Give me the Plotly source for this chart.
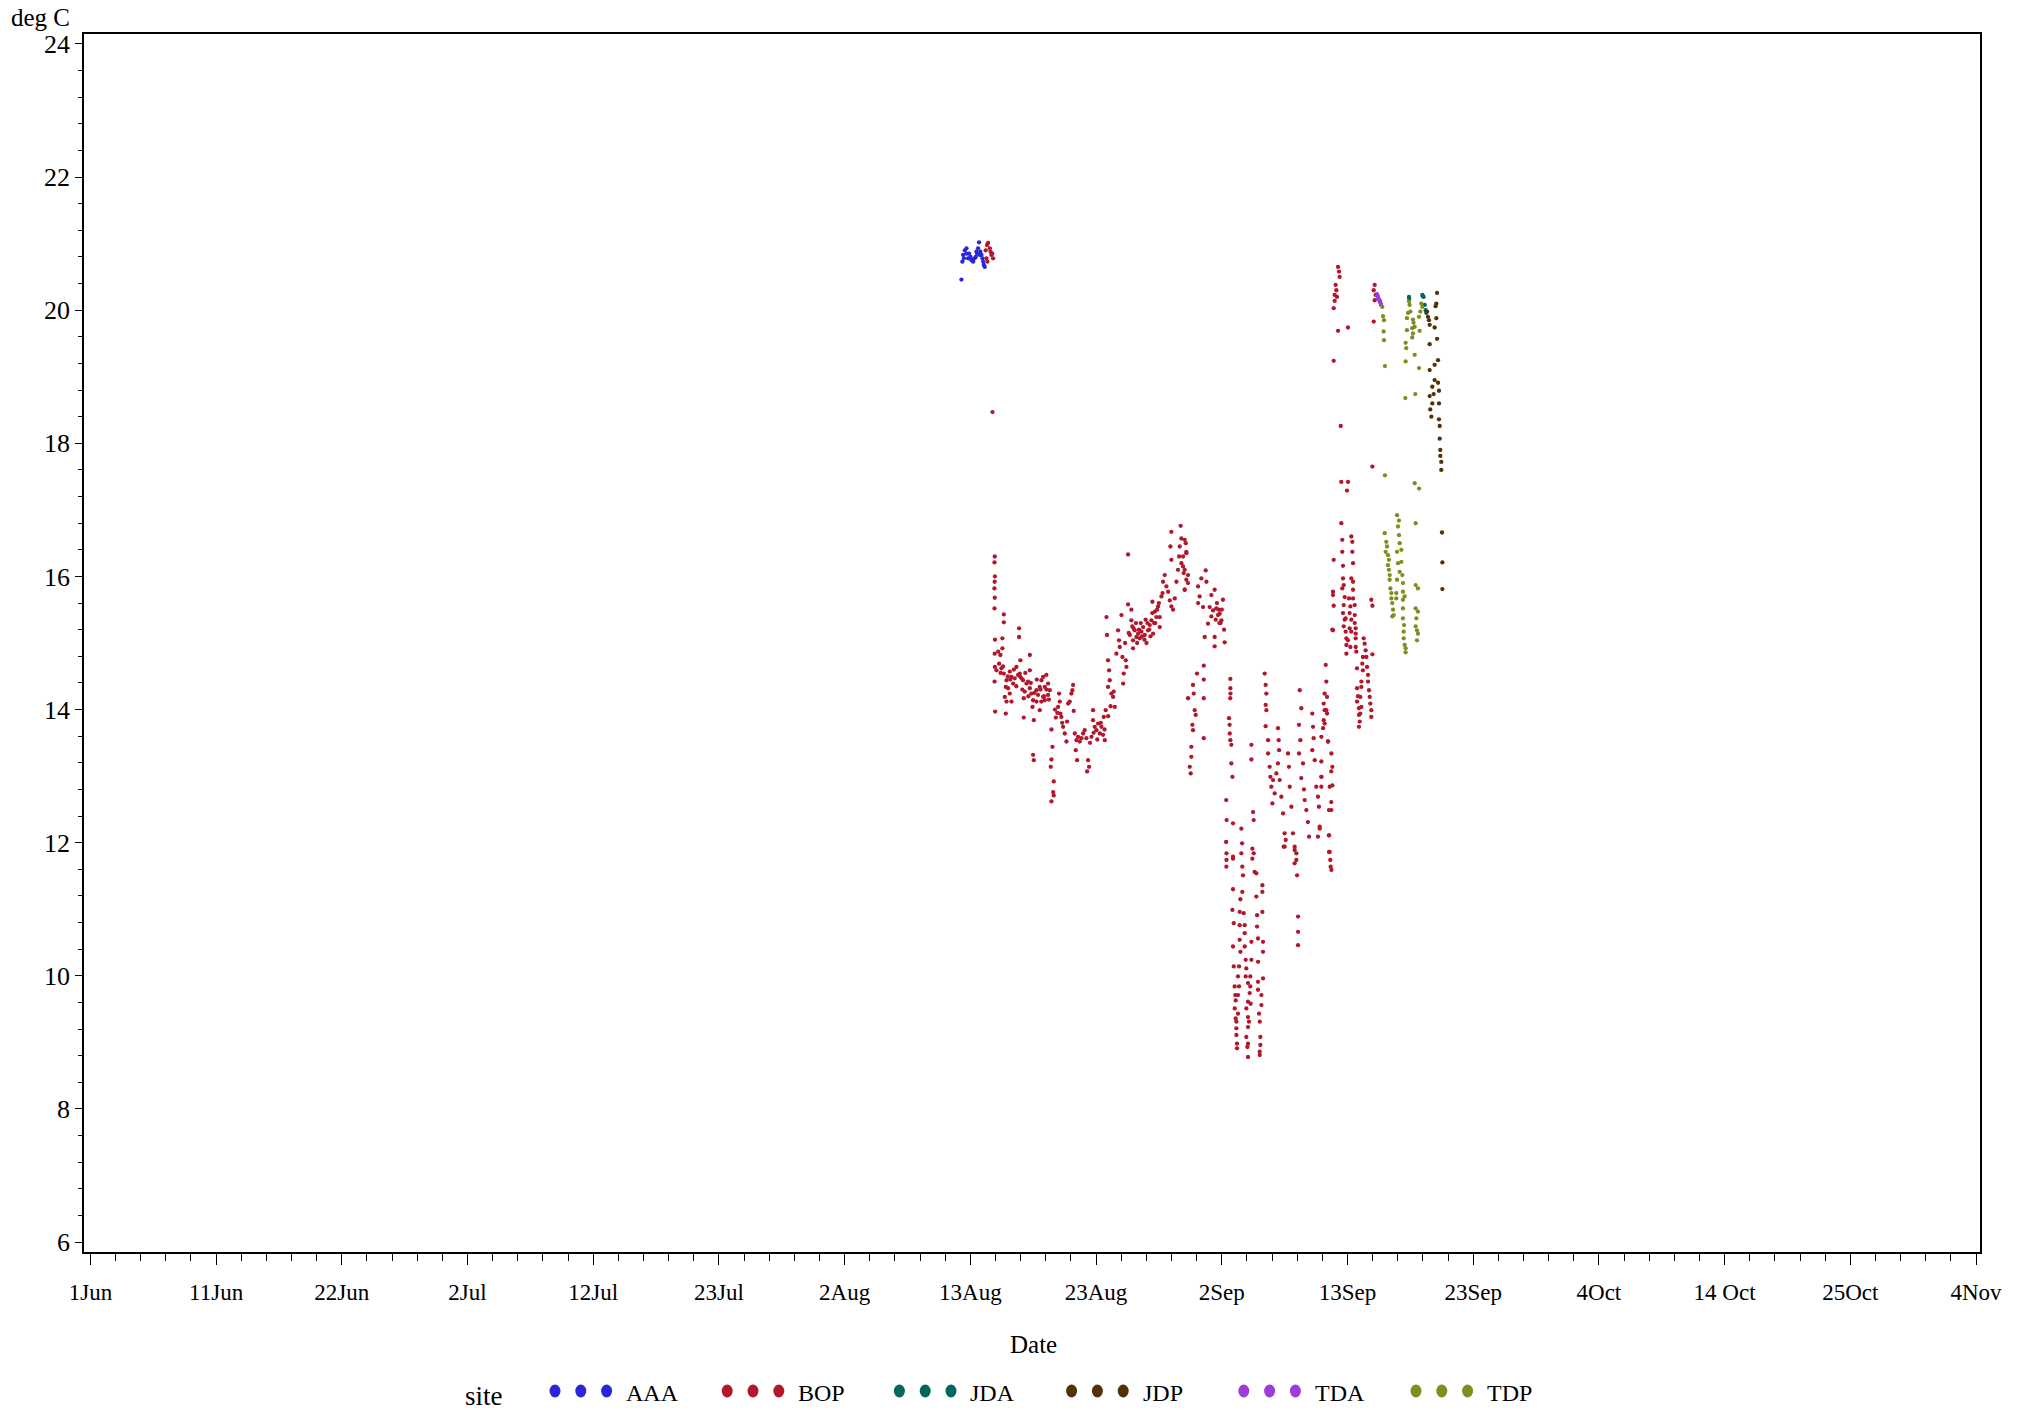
import pandas as pd
import plotly.graph_objects as go

# ---------------- data (days after 1 Jun, temperature deg C) ----------------
sites = ["AAA", "BOP", "JDA", "JDP", "TDA", "TDP"]
site_colors = ["#2A25D9", "#B2182B", "#01665E", "#543005", "#9D3CDB", "#7F8E1F"]

tick_labels = ["1Jun", "11Jun", "22Jun", "2Jul", "12Jul", "23Jul", "2Aug", "13Aug",
               "23Aug", "2Sep", "13Sep", "23Sep", "4Oct", "14 Oct", "25Oct", "4Nov"]

aaa_day = [72.06, 72.14, 72.20, 72.34, 72.48, 72.70, 72.89, 73.03, 73.16, 73.30,
           73.44, 73.52, 73.63, 73.80, 73.91, 73.99, 72.27, 72.48, 72.61, 72.81,
           72.97, 73.25, 73.36, 73.58, 73.72, 73.86]
aaa_temp = [20.46, 20.73, 20.83, 20.90, 20.93, 20.85, 20.75, 20.73, 20.78, 20.88,
            20.93, 21.02, 20.88, 20.78, 20.68, 20.65, 20.78, 20.85, 20.78, 20.80,
            20.76, 20.80, 20.85, 20.83, 20.83, 20.73]

bop_day = (
    [74.07, 74.18, 74.27, 74.41, 74.54, 74.68, 74.13, 74.21, 74.47, 74.61, 74.63]
    + [74.82, 74.80, 74.83, 74.81, 74.79, 74.82, 74.80, 74.84, 74.81, 74.83, 74.80, 74.85]
    + [75.10, 75.29, 75.45, 75.18, 74.96, 75.37, 75.57, 75.79, 75.73, 75.92,
       75.65, 75.79, 75.73, 75.57, 75.57, 75.45, 76.06, 76.20, 76.34, 76.47, 76.20, 76.06]
    + [76.83, 76.83, 76.61, 76.75, 76.89, 77.03, 77.16, 76.94, 77.22, 77.30,
       77.44, 77.58, 77.72, 77.72, 77.72, 77.85, 77.99, 77.94, 78.05, 77.99, 78.05, 77.22]
    + [78.27, 78.40, 78.54, 78.68, 78.82, 78.96, 79.09, 79.23, 79.37, 78.82, 78.68, 78.27, 78.54, 78.96, 79.23]
    + [75.30, 75.50, 75.90, 76.10, 76.40, 76.60, 76.90, 77.10, 77.35, 77.60,
       77.80, 78.10, 78.30, 78.60, 78.90, 79.10, 79.30, 79.80, 80.00, 80.40]
    + [79.51, 79.59, 79.51, 79.45, 79.70, 79.65, 79.70, 79.51]
    + [80.14, 80.20, 80.06, 80.25, 80.33, 79.87, 80.47, 80.61, 80.75, 80.80,
       81.02, 81.16, 81.30, 81.24, 80.89, 81.35, 81.44, 81.58, 81.71, 81.52,
       81.63, 81.85, 81.99, 82.13, 82.26, 82.40, 82.54, 82.62, 82.46]
    + [82.82, 82.95, 82.95, 83.09, 83.23, 83.37, 83.51, 83.64, 83.78, 83.92, 83.84, 84.00]
    + [82.70, 83.00, 83.30, 83.60, 83.90, 84.20, 84.40]
    + [84.06, 84.11, 84.19, 84.28, 84.33, 84.19, 84.47, 84.61, 84.75, 84.66,
       84.88, 85.02, 85.10, 85.16, 85.30, 85.38, 85.49, 85.44, 85.71, 85.66, 85.85, 85.85]
    + [86.12, 86.12, 85.99, 86.26, 86.40, 86.26, 86.54, 86.68, 86.81, 86.95,
       87.09, 87.23, 87.37, 87.50, 87.64, 87.78, 87.92, 87.86, 88.06, 88.19,
       88.33, 88.47, 88.61, 88.47]
    + [86.30, 86.60, 86.90, 87.20, 87.45, 87.70, 88.00, 88.25]
    + [85.60, 85.90, 86.20, 86.50, 86.75, 87.00, 87.30, 87.60, 87.85, 88.10, 88.40, 88.70]
    + [88.74, 88.88, 89.02, 89.16, 89.30, 89.43, 89.57, 89.43, 89.35, 89.43,
       89.71, 89.85, 89.98, 90.07, 90.12, 90.20, 90.26, 90.40, 90.45, 90.54,
       90.67, 90.81, 90.81, 90.62]
    + [90.53, 90.67, 90.40, 90.26, 90.53, 90.67, 90.53]
    + [91.64, 91.91, 92.27, 91.77, 91.64, 92.05, 92.46, 92.74, 92.88, 93.15,
       93.43, 93.70, 93.57, 93.79, 92.19, 93.01, 93.01, 93.84, 93.29, 92.60,
       92.74, 93.01, 92.33]
    + [93.20, 93.35, 93.50, 93.60, 93.40, 93.10]
    + [90.81, 91.22, 91.28, 91.36, 91.44, 91.17, 91.22, 91.08, 91.08, 90.95, 91.03, 91.55, 92.11, 92.11, 92.11, 92.11]
    + [94.31, 94.31, 94.32, 94.30, 94.20, 94.25, 94.26, 94.31, 94.39, 94.39, 94.48]
    + [93.97, 94.00, 93.96, 93.99, 93.98, 94.53, 94.53, 95.22, 95.28, 95.22,
       95.30, 95.36, 96.05, 96.05, 96.19, 96.24, 96.13, 96.24, 96.32]
    + [97.15, 97.23, 97.29, 97.23, 97.29, 97.23, 97.43, 97.43, 97.56, 97.62,
       97.70, 97.84, 97.98, 97.79, 98.12, 98.25, 98.31, 98.34, 98.25, 98.39,
       98.53, 98.67, 98.80, 98.89, 98.72, 99.08, 99.16, 99.22, 99.36, 99.49,
       99.63, 99.77, 99.83]
    + [100.05, 100.18, 99.99, 100.10, 99.99, 100.32, 100.18, 100.46, 100.60, 100.73,
       100.82, 100.40, 101.09, 101.15, 101.20, 101.09, 101.29, 101.42, 101.56, 101.64,
       101.70, 101.56, 101.84]
    + [102.20, 102.25, 102.11, 102.25, 102.11, 102.39, 102.67, 102.75, 102.53, 102.67,
       102.47, 102.58, 102.67, 102.80, 102.80]
    + [102.31, 102.03, 102.11, 102.31, 102.03, 101.98, 102.39, 101.84, 101.84, 102.66,
       101.84, 101.84, 102.75, 102.66, 102.47, 101.70, 102.47, 102.47, 102.61]
    + [102.86, 102.80, 102.86, 102.75]
    + [103.49, 103.57, 103.57, 103.63, 103.63, 103.69, 103.57, 103.77, 103.69, 103.63,
       103.77, 103.69, 103.85, 103.91, 103.91, 103.91]
    + [104.32, 104.40, 104.40, 104.46, 104.32, 104.46, 104.46, 104.13, 104.46, 104.24,
       104.60, 104.18, 104.60, 103.85, 104.32, 104.60, 104.18, 104.68, 104.32, 104.68,
       104.04, 104.68, 104.24, 104.68, 104.73]
    + [104.79, 104.79, 104.87, 104.79, 104.95, 104.95, 105.01, 104.95, 105.34, 105.42,
       105.50, 105.28, 105.56, 105.23, 105.62, 105.28, 105.70, 105.15, 105.70, 105.15,
       105.78, 105.06, 105.84, 105.15, 105.89, 105.06, 105.97, 105.97, 106.06, 105.97,
       106.06]
    + [103.22, 103.30, 103.35, 103.02, 103.08, 102.94, 103.13, 102.94, 102.86, 103.22,
       104.04, 102.86, 103.44, 106.06, 103.49, 104.04, 103.96, 106.25, 106.17, 106.33,
       106.25, 106.17]
    + [93.99, 94.53, 94.53, 94.48, 94.59, 94.53, 94.59, 94.67, 94.72, 94.67,
       94.75, 94.81, 94.81, 94.86, 94.86]
    + [95.30, 95.14, 95.08, 95.41, 95.50, 95.08, 95.50, 95.08, 95.50, 95.14,
       95.58, 95.03, 95.63, 95.58, 95.77, 95.96, 95.91, 95.77, 95.99, 94.94,
       95.03, 94.94, 94.75, 95.63, 95.77, 95.85, 94.94, 94.81, 95.77, 95.63,
       95.77, 95.72, 95.77, 95.96]
    + [96.13, 96.46, 96.96, 96.96, 96.46, 96.96, 96.52, 96.52, 97.01, 97.01,
       96.60, 96.05, 96.05, 96.60, 97.01, 96.60, 96.60, 96.88, 96.88, 96.68,
       96.74, 96.79, 96.79, 96.74, 96.74]
    + [99.63, 99.77, 99.63, 99.91, 99.91, 99.91, 102.53, 98.80]
)
bop_temp = (
    [20.90, 20.98, 21.01, 20.93, 20.83, 20.78, 20.78, 20.73, 20.88, 20.85, 18.47]
    + [16.30, 16.21, 16.00, 15.92, 15.82, 15.68, 15.52, 15.05, 14.84, 14.64, 14.42, 13.97]
    + [14.87, 14.82, 14.92, 14.69, 14.59, 14.62, 14.54, 14.44, 14.34, 14.32,
       14.19, 14.12, 13.94, 15.43, 15.31, 15.07, 14.57, 14.49, 14.39, 14.47, 14.12, 14.24]
    + [15.22, 15.09, 14.64, 14.52, 14.54, 14.47, 14.44, 14.74, 14.17, 14.27,
       14.39, 14.42, 14.82, 14.59, 14.32, 14.24, 14.14, 14.04, 13.84, 13.32, 13.24, 13.88]
    + [14.29, 14.22, 14.34, 14.44, 14.49, 14.34, 14.52, 14.39, 14.29, 14.19, 14.12, 14.12, 13.99, 14.14, 14.22]
    + [14.55, 14.65, 14.50, 14.45, 14.60, 14.35, 14.50, 14.30, 14.55, 14.20,
       14.40, 14.25, 14.45, 14.30, 14.20, 14.30, 14.15, 14.00, 13.95, 13.80]
    + [13.70, 13.44, 13.25, 13.14, 12.92, 12.76, 12.71, 12.62]
    + [14.24, 14.12, 14.04, 13.94, 13.89, 13.88, 13.74, 13.64, 13.52, 13.82,
       14.12, 14.24, 14.37, 14.29, 14.09, 13.98, 13.64, 13.54, 13.59, 13.39,
       13.24, 13.52, 13.57, 13.64, 13.69, 13.57, 13.24, 13.14, 13.07]
    + [13.59, 13.84, 13.99, 13.74, 13.69, 13.79, 13.64, 13.74, 13.62, 13.54, 13.89, 13.99]
    + [13.50, 13.65, 13.55, 13.80, 13.70, 13.90, 14.05]
    + [15.39, 15.12, 14.74, 14.59, 14.44, 14.34, 14.24, 14.19, 14.04, 14.27,
       14.84, 15.19, 15.04, 14.94, 15.42, 14.79, 14.54, 14.39, 14.64, 14.74, 16.33, 15.58]
    + [15.50, 15.34, 15.12, 15.04, 15.19, 14.92, 15.09, 15.14, 15.07, 15.17,
       15.24, 15.12, 15.00, 15.19, 15.27, 15.34, 15.14, 15.62, 15.47, 15.39,
       15.55, 15.39, 15.70, 15.24]
    + [15.22, 15.00, 15.30, 15.05, 15.30, 15.10, 15.30, 15.50]
    + [15.00, 15.15, 15.25, 15.30, 15.20, 15.10, 15.35, 15.20, 15.45, 15.30, 15.60, 15.75]
    + [15.92, 16.02, 15.85, 15.77, 15.64, 15.55, 15.50, 16.67, 16.45, 16.25,
       15.67, 15.92, 16.10, 16.30, 16.45, 16.76, 16.57, 16.15, 16.05, 15.80,
       16.35, 16.02, 15.90, 16.50]
    + [16.55, 16.37, 16.30, 16.20, 16.10, 15.95, 15.80]
    + [15.85, 15.97, 16.09, 15.70, 15.60, 15.54, 15.29, 15.40, 15.49, 15.52,
       15.44, 15.65, 15.34, 15.20, 15.09, 15.09, 14.95, 15.01, 15.42, 15.54,
       15.72, 15.80, 15.92]
    + [15.60, 15.50, 15.30, 15.50, 15.30, 15.35]
    + [14.17, 14.37, 14.24, 13.99, 13.92, 13.77, 13.69, 13.44, 13.29, 13.14, 13.04, 14.54, 14.66, 14.45, 14.17, 13.57]
    + [14.46, 14.32, 14.24, 14.17, 13.87, 13.77, 13.64, 13.54, 13.47, 13.19, 12.99]
    + [12.64, 12.34, 12.01, 11.84, 11.64, 12.29, 11.76, 12.21, 11.99, 11.84,
       11.64, 11.51, 13.47, 13.25, 12.46, 12.34, 11.91, 11.84, 11.56]
    + [14.54, 14.37, 14.24, 14.07, 13.99, 13.75, 13.54, 13.34, 13.14, 12.99,
       12.84, 12.94, 12.74, 12.59, 13.04, 13.72, 13.54, 13.39, 13.19, 12.94,
       12.69, 12.44, 12.14, 12.04, 11.94, 13.34, 13.14, 12.84, 12.54, 12.14,
       11.89, 11.74, 11.51]
    + [14.29, 14.02, 13.77, 13.54, 13.34, 13.19, 12.97, 12.64, 12.49, 12.31,
       12.09, 12.80, 13.94, 13.74, 13.57, 13.39, 13.24, 12.84, 12.69, 12.54,
       12.24, 12.09, 12.99]
    + [14.67, 14.42, 14.24, 13.99, 13.79, 13.52, 13.34, 13.14, 12.84, 12.49,
       12.11, 11.74, 11.59, 15.77, 15.19]
    + [14.19, 14.09, 13.99, 13.94, 13.84, 13.72, 13.52, 13.59, 13.22, 13.07,
       12.99, 12.84, 12.86, 12.61, 12.49, 12.21, 12.11, 11.86, 11.64]
    + [16.25, 15.72, 15.56, 15.20]
    + [16.80, 16.55, 16.37, 16.16, 15.97, 15.87, 15.82, 15.69, 15.57, 15.45,
       15.35, 15.25, 15.17, 15.07, 14.97, 14.84]
    + [16.60, 16.52, 16.37, 16.20, 15.97, 15.92, 15.80, 15.67, 15.67, 15.55,
       15.57, 15.45, 15.42, 15.37, 15.35, 15.30, 15.22, 15.22, 15.17, 15.14,
       15.04, 15.07, 14.94, 14.94, 14.87]
    + [14.62, 14.32, 14.20, 14.12, 14.02, 13.92, 13.82, 13.74, 15.07, 14.99,
       14.89, 14.79, 14.79, 14.69, 14.64, 14.59, 14.52, 14.42, 14.42, 14.34,
       14.29, 14.19, 14.19, 14.04, 14.09, 13.94, 13.99, 13.89, 15.56, 15.65,
       14.83]
    + [20.65, 20.58, 20.50, 20.38, 20.30, 20.23, 20.20, 20.14, 20.03, 19.69,
       19.74, 19.24, 18.26, 17.65, 17.42, 17.42, 17.29, 20.38, 20.30, 20.23,
       20.15, 19.83]
    + [11.74, 11.79, 11.30, 10.99, 10.79, 10.44, 10.14, 9.84, 9.71, 9.51,
       9.36, 9.21, 9.11, 8.98, 8.91]
    + [11.26, 11.15, 10.96, 10.94, 10.76, 10.76, 10.64, 10.54, 10.44, 10.36,
       10.24, 10.14, 10.11, 9.99, 9.89, 9.84, 9.74, 9.61, 9.58, 9.99,
       9.84, 9.71, 9.63, 9.51, 9.38, 9.31, 9.43, 9.31, 9.23, 9.08,
       8.98, 8.93, 8.78, 9.99]
    + [11.76, 11.54, 11.36, 11.26, 11.19, 10.96, 10.91, 10.74, 10.51, 10.36,
       10.56, 10.51, 10.24, 10.21, 9.96, 9.91, 9.79, 9.71, 9.56, 9.43,
       9.31, 9.08, 8.96, 8.86, 8.81]
    + [11.94, 11.84, 11.69, 10.89, 10.66, 10.46, 11.86, 11.94]
)

jda_day = [109.09, 110.19, 110.30, 110.39, 110.47, 110.52, 109.11, 110.24]
jda_temp = [20.20, 20.23, 20.20, 20.08, 20.00, 19.96, 20.17, 20.21]

jdp_day = [111.41, 111.35, 111.29, 110.58, 110.66, 110.74, 110.80, 111.35, 111.21, 111.41,
           110.80, 111.49, 111.21, 110.80, 111.21, 111.49, 111.02, 111.13, 111.57, 110.80,
           111.02, 111.57, 110.85, 110.94, 111.57, 111.63, 111.63, 111.68, 111.68, 111.76,
           111.76, 111.82, 111.85, 111.85]
jdp_temp = [20.26, 20.10, 20.06, 19.98, 19.90, 19.85, 19.78, 19.88, 19.74, 19.57,
            19.49, 19.25, 19.18, 19.10, 18.95, 18.91, 18.85, 18.74, 18.79, 18.71,
            18.60, 18.60, 18.51, 18.40, 18.36, 18.26, 18.07, 17.90, 17.81, 17.72,
            17.60, 16.66, 16.21, 15.81]

tda_day = [106.44, 106.52, 106.61, 106.66, 106.75, 106.55, 106.69, 106.77, 106.48]
tda_temp = [20.24, 20.20, 20.16, 20.13, 20.10, 20.18, 20.14, 20.08, 20.22]

tdp_day = ([106.88, 106.94, 107.02, 106.99, 107.02, 107.10, 107.10, 109.09, 109.14, 109.20,
            109.01, 108.92, 109.42, 109.47, 108.92, 109.36, 109.56, 109.42, 109.36, 108.81,
            108.86, 109.56, 108.81, 108.79, 109.61, 109.92, 109.97, 109.92, 110.03, 110.11,
            110.19, 109.56, 109.92]
           + [107.08, 107.21, 107.27, 107.16, 107.35, 107.43, 107.35, 107.43, 107.49, 107.49,
              107.55, 107.63, 107.63, 107.71, 107.77, 107.82, 107.71, 108.10, 108.26, 108.18,
              108.26, 108.32, 108.46, 108.10, 108.18, 108.46, 108.32, 108.54, 108.10, 108.59,
              108.04, 108.59, 108.04, 108.73, 108.59, 108.59, 108.59, 108.68, 108.65, 108.65,
              108.73, 108.81, 108.81, 109.64, 109.64, 109.83, 109.64, 109.83, 109.70, 109.64,
              109.75, 109.83, 109.75])
tdp_temp = ([20.05, 19.91, 19.85, 19.68, 19.55, 19.16, 17.52, 20.13, 20.08, 19.98,
             19.96, 19.88, 19.86, 19.81, 19.70, 19.73, 19.75, 19.65, 19.59, 19.51,
             19.43, 19.33, 19.23, 18.68, 18.74, 19.13, 19.69, 19.90, 19.98, 20.10,
             20.05, 17.40, 17.32]
            + [16.65, 16.52, 16.45, 16.37, 16.32, 16.25, 16.17, 16.10, 16.02, 15.95,
               15.82, 15.75, 15.67, 15.60, 15.50, 15.42, 15.40, 16.92, 16.84, 16.75,
               16.62, 16.50, 16.40, 16.37, 16.20, 16.22, 16.07, 16.02, 15.95, 15.90,
               15.75, 15.77, 15.67, 15.70, 15.65, 15.52, 15.37, 15.27, 15.17, 15.07,
               14.97, 14.92, 14.86, 16.80, 15.87, 15.82, 15.52, 15.47, 15.37, 15.25,
               15.19, 15.14, 15.04])

series_days = [aaa_day, bop_day, jda_day, jdp_day, tda_day, tdp_day]
series_temps = [aaa_temp, bop_temp, jda_temp, jdp_temp, tda_temp, tdp_temp]
for d, t in zip(series_days, series_temps):
    assert len(d) == len(t), (len(d), len(t))

# ---------------- figure ----------------
BASE = pd.Timestamp("2011-06-01")
TICK_STEP_DAYS = 10.4
FONT = "Liberation Serif"


def to_dt(days):
    return BASE + pd.to_timedelta(days, unit="D")


fig = go.Figure()
for name, color, d, t in zip(sites, site_colors, series_days, series_temps):
    fig.add_trace(go.Scatter(
        x=to_dt(d), y=t, mode="markers", name=name, showlegend=False,
        marker=dict(color=color, size=4.3, symbol="circle", line=dict(width=0)),
    ))

tickvals = [BASE + pd.Timedelta(days=TICK_STEP_DAYS * k) for k in range(len(tick_labels))]

# page geometry (page body margin is removed by the post script below)
W, H = 2024, 1413
PLOT_L, PLOT_R, PLOT_T, PLOT_B = 84, 1980, 34, 1252   # in page pixels
ML, MT = PLOT_L, PLOT_T
MR, MB = W - PLOT_R, H - PLOT_B
PW, PH = PLOT_R - PLOT_L, PLOT_B - PLOT_T


def px_x(px):
    return (px - PLOT_L) / PW


def px_y(py):
    return (PLOT_B - py) / PH


fig.update_layout(
    width=W, height=H,
    margin=dict(l=ML, r=MR, t=MT, b=MB),
    paper_bgcolor="white", plot_bgcolor="white",
    font=dict(family=FONT, color="black", size=22),
    showlegend=False,
)
fig.update_xaxes(
    type="date",
    range=[BASE - pd.Timedelta(days=0.53), BASE + pd.Timedelta(days=156.33)],
    tickmode="array", tickvals=tickvals, ticktext=tick_labels,
    ticks="outside", ticklen=11, tickwidth=1, tickcolor="black",
    ticklabelstandoff=8,
    minor=dict(ticks="outside", ticklen=7, tickwidth=1, tickcolor="black",
               tick0=BASE.strftime("%Y-%m-%d"), dtick=TICK_STEP_DAYS / 5 * 86400000),
    showline=True, linecolor="black", linewidth=1.5, mirror=True,
    showgrid=False, zeroline=False,
    tickfont=dict(family=FONT, size=23),
)
fig.update_yaxes(
    range=[5.85, 24.15],
    tickmode="array", tickvals=list(range(6, 25, 2)),
    ticks="outside", ticklen=7, tickwidth=1, tickcolor="black",
    minor=dict(ticks="outside", ticklen=4, tickwidth=1, tickcolor="black",
               tick0=6, dtick=0.4),
    showline=True, linecolor="black", linewidth=1.5, mirror=True,
    showgrid=False, zeroline=False,
    tickfont=dict(family=FONT, size=26),
)

annotations = [
    dict(text="deg C", x=px_x(40), y=px_y(17), xref="paper", yref="paper",
         xanchor="center", yanchor="middle", showarrow=False, font=dict(size=25),
         borderpad=0),
    dict(text="Date", x=px_x(1033), y=px_y(1344), xref="paper", yref="paper",
         xanchor="center", yanchor="middle", showarrow=False, font=dict(size=25)),
    dict(text="site", x=px_x(484), y=px_y(1396), xref="paper", yref="paper",
         xanchor="center", yanchor="middle", showarrow=False, font=dict(size=27)),
]
shapes = []
LEG_X0, LEG_STEP, DOT_GAP, TXT_OFF, LEG_Y = 555, 172.2, 25.8, 69, 1391
for i, (name, color) in enumerate(zip(sites, site_colors)):
    gx = LEG_X0 + LEG_STEP * i
    for k in range(3):
        shapes.append(dict(
            type="circle", xref="paper", yref="paper",
            xsizemode="pixel", ysizemode="pixel",
            xanchor=px_x(gx + DOT_GAP * k), yanchor=px_y(LEG_Y),
            x0=-5.5, x1=5.5, y0=-6.5, y1=6.5,
            fillcolor=color, line=dict(width=0),
        ))
    annotations.append(dict(
        text=name, x=px_x(gx + TXT_OFF), y=px_y(LEG_Y + 2), xref="paper", yref="paper",
        xanchor="left", yanchor="middle", showarrow=False, font=dict(size=24),
    ))

fig.update_layout(annotations=annotations, shapes=shapes)
fig.write_html(
    "out.html",
    config={"displayModeBar": False},
    post_script="document.body.style.margin='0';document.body.style.overflow='hidden';",
)
